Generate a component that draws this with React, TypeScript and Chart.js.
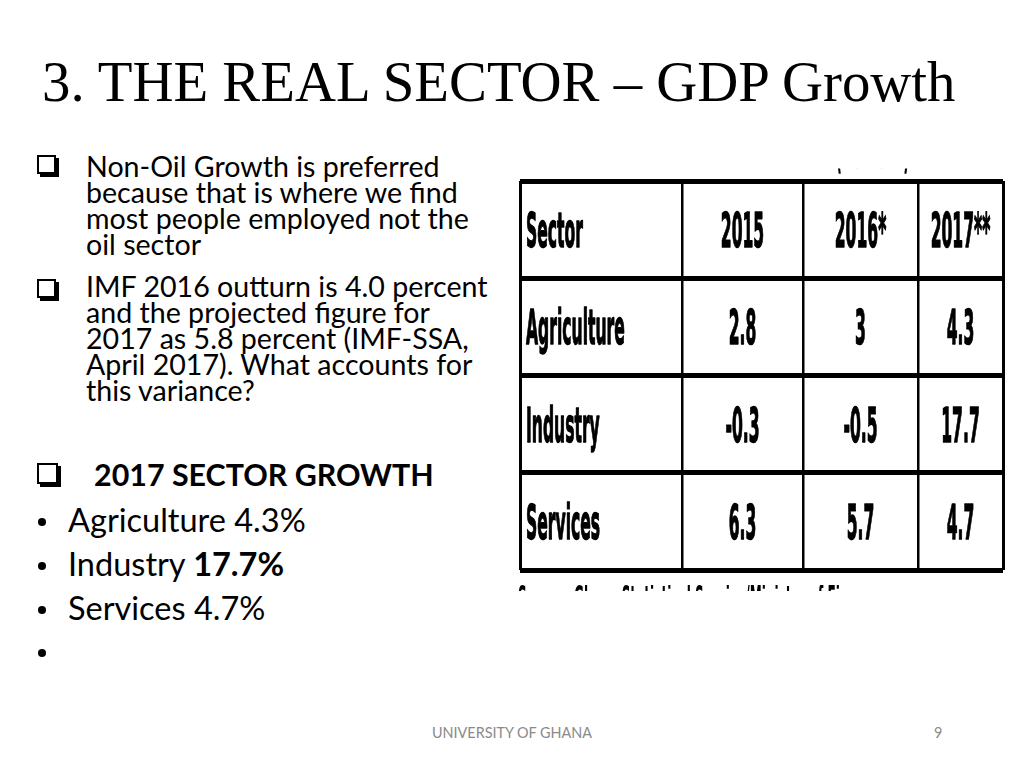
import React, { useEffect, useRef } from "react";
import { Chart, registerables } from "chart.js";

Chart.register(...registerables);

// ---------------- data ----------------
const slideTitle = "3. THE REAL SECTOR – GDP Growth";
const columnHeaders = ["Sector", "2015", "2016*", "2017**"];
const sectors = ["Agriculture", "Industry", "Services"];
const growth2015 = [2.8, -0.3, 6.3];
const growth2016 = [3, -0.5, 5.7];
const growth2017 = [4.3, 17.7, 4.7];
const growthSeries = [growth2015, growth2016, growth2017];
const tableNote = "(Percent)";
const tableSource = "Source: Ghana Statistical Service/Ministry of Finance";

const bulletOneLines = [
  "Non-Oil Growth is preferred",
  "because that is where we find",
  "most people employed not the",
  "oil sector",
];
const bulletTwoLines = [
  "IMF 2016 outturn is 4.0 percent",
  "and the projected figure for",
  "2017 as 5.8 percent (IMF-SSA,",
  "April 2017). What accounts for",
  "this variance?",
];
const sectorHeading = "2017 SECTOR GROWTH";
const highlightedSector = "Industry";
const footerText = "UNIVERSITY OF GHANA";
const slideNumber = "9";

// ---------------- layout (not data) ----------------
const COL_EDGES = [0, 162, 283, 398, 483]; // table units (px wide)
const ROWS = sectors.length + 1;
const CELL_FONT = "DejaVu Sans";
const SX = 0.78;
const SY = 2.4;
const CELL_SIZE = 20;

const fmt = (v: number) => String(v);

function drawStretched(
  ctx: CanvasRenderingContext2D,
  text: string,
  x: number,
  baseline: number,
  size: number,
  sy: number,
  align: CanvasTextAlign,
  heavy = false
) {
  ctx.save();
  ctx.translate(x, baseline);
  ctx.scale(SX, sy);
  ctx.font = `bold ${size}px "${CELL_FONT}"`;
  ctx.textAlign = align;
  ctx.textBaseline = "alphabetic";
  ctx.fillStyle = "#000";
  ctx.fillText(text, 0, 0);
  if (heavy) {
    ctx.strokeStyle = "#000";
    ctx.lineWidth = 0.6;
    ctx.lineJoin = "round";
    ctx.strokeText(text, 0, 0);
  }
  ctx.restore();
}

const cellTextPlugin = {
  id: "cellText",
  afterDraw(chart: any) {
    const { ctx, chartArea } = chart;
    const xs = chart.scales.x;
    const ys = chart.scales.y;
    const capH = 0.729 * CELL_SIZE * SY;
    const rows: string[][] = [columnHeaders];
    sectors.forEach((s, i) => {
      rows.push([s, ...growthSeries.map((ser) => fmt(ser[i]))]);
    });
    rows.forEach((row, r) => {
      const cy = ys.getPixelForValue(r + 0.5);
      row.forEach((txt, c) => {
        const x0 = xs.getPixelForValue(COL_EDGES[c]);
        const x1 = xs.getPixelForValue(COL_EDGES[c + 1]);
        if (c === 0) {
          drawStretched(ctx, txt, x0 + 6, cy + capH / 2, CELL_SIZE, SY, "left", true);
        } else {
          drawStretched(ctx, txt, (x0 + x1) / 2, cy + capH / 2, CELL_SIZE, SY, "center", true);
        }
      });
    });
    // cut-off caption above the table (only the parenthesis tails show)
    const noteBase = chartArea.top - 14;
    ctx.save();
    ctx.beginPath();
    ctx.rect(chartArea.left, noteBase + 1.5, chartArea.width, 8);
    ctx.clip();
    const nx0 = xs.getPixelForValue(COL_EDGES[2]);
    const nx1 = xs.getPixelForValue(COL_EDGES[3]);
    drawStretched(ctx, tableNote, (nx0 + nx1) / 2 + 12, noteBase, 18, 3, "center");
    ctx.restore();
    // cut-off source line below the table (only ascender tops show)
    const srcSize = 15.5;
    const srcSY = 2.2;
    const srcCapTop = chartArea.bottom + 15;
    const srcBase = srcCapTop + 0.729 * srcSize * srcSY;
    ctx.save();
    ctx.beginPath();
    ctx.rect(chartArea.left - 5, srcCapTop, chartArea.width, 6);
    ctx.clip();
    drawStretched(ctx, tableSource, chartArea.left - 2, srcBase, srcSize, srcSY, "left");
    ctx.restore();
  },
};

function SectorTable() {
  const ref = useRef<HTMLCanvasElement | null>(null);
  useEffect(() => {
    if (!ref.current) return;
    const chart = new Chart(ref.current, {
      type: "scatter",
      data: { datasets: [] },
      options: {
        animation: false,
        responsive: false,
        devicePixelRatio: 1,
        events: [],
        layout: { padding: { left: 15, top: 31, right: 21, bottom: 40 } },
        plugins: { legend: { display: false }, tooltip: { enabled: false } },
        scales: {
          x: {
            type: "linear",
            min: COL_EDGES[0],
            max: COL_EDGES[COL_EDGES.length - 1],
            afterBuildTicks: (s: any) => {
              s.ticks = COL_EDGES.map((v) => ({ value: v }));
            },
            ticks: { display: false },
            border: { display: false },
            grid: {
              color: "#000",
              drawTicks: false,
              lineWidth: (ctx: any) =>
                ctx.index === 0 || ctx.index === COL_EDGES.length - 1 ? 3 : 2.5,
            },
          },
          y: {
            type: "linear",
            min: 0,
            max: ROWS,
            reverse: true,
            afterBuildTicks: (s: any) => {
              s.ticks = Array.from({ length: ROWS + 1 }, (_, i) => ({ value: i }));
            },
            ticks: { display: false },
            border: { display: false },
            grid: { color: "#000", drawTicks: false, lineWidth: 5 },
          },
        },
      },
      plugins: [cellTextPlugin],
    } as any);
    return () => chart.destroy();
  }, []);
  return (
    <canvas
      ref={ref}
      width={519}
      height={460}
      style={{ position: "absolute", left: 505, top: 150, width: 519, height: 460 }}
    />
  );
}

const LATO_OFF = 0.887;
const SERIF_OFF = 0.8375;

function TextLine(props: {
  x: number;
  baseline: number;
  size: number;
  family: string;
  off: number;
  weight?: number;
  color?: string;
  children: any;
}) {
  const { x, baseline, size, family, off, weight = 400, color = "#000", children } = props;
  return (
    <div
      style={{
        position: "absolute",
        left: x,
        top: baseline - off * size,
        fontFamily: family,
        fontSize: size,
        lineHeight: `${size}px`,
        fontWeight: weight,
        color,
        whiteSpace: "pre",
      }}
    >
      {children}
    </div>
  );
}

function CheckBox({ x, y, s }: { x: number; y: number; s: number }) {
  return (
    <div
      style={{
        position: "absolute",
        left: x,
        top: y,
        width: s,
        height: s,
        boxSizing: "border-box",
        border: "2px solid #000",
        boxShadow: "3px 3px 0 0 #000",
        background: "#fff",
      }}
    />
  );
}

function Dot({ cx, cy }: { cx: number; cy: number }) {
  return (
    <div
      style={{
        position: "absolute",
        left: cx - 4,
        top: cy - 4,
        width: 8,
        height: 8,
        borderRadius: "50%",
        background: "#000",
      }}
    />
  );
}

export default function App() {
  const LATO = "Lato, 'Open Sans', sans-serif";
  const SERIF = "'Liberation Serif', 'Times New Roman', serif";
  const b1 = [177, 203, 229, 255];
  const b2 = [297, 323, 349, 375, 401];
  const itemBase = [533, 577, 621];
  return (
    <div
      style={{
        position: "absolute",
        left: 0,
        top: 0,
        width: 1024,
        height: 768,
        background: "#fff",
        overflow: "hidden",
      }}
    >
      <TextLine x={42} baseline={102} size={56.8} family={SERIF} off={SERIF_OFF}>
        {slideTitle}
      </TextLine>

      <CheckBox x={37} y={155} s={19} />
      {bulletOneLines.map((t, i) => (
        <TextLine key={"a" + i} x={86} baseline={b1[i]} size={28.6} family={LATO} off={LATO_OFF}>
          {t}
        </TextLine>
      ))}
      <CheckBox x={37} y={279} s={19} />
      {bulletTwoLines.map((t, i) => (
        <TextLine key={"b" + i} x={86} baseline={b2[i]} size={28.6} family={LATO} off={LATO_OFF}>
          {t}
        </TextLine>
      ))}

      <CheckBox x={37} y={463} s={21} />
      <TextLine x={94} baseline={486} size={30.4} weight={700} family={LATO} off={LATO_OFF}>
        {sectorHeading}
      </TextLine>
      {sectors.map((s, i) => (
        <React.Fragment key={"s" + i}>
          <Dot cx={41.7} cy={itemBase[i] - 11.5} />
          <TextLine x={68} baseline={itemBase[i]} size={32.5} family={LATO} off={LATO_OFF}>
            {s + " "}
            {s === highlightedSector ? (
              <b>{fmt(growth2017[i]) + "%"}</b>
            ) : (
              fmt(growth2017[i]) + "%"
            )}
          </TextLine>
        </React.Fragment>
      ))}
      <Dot cx={41.7} cy={653} />

      <SectorTable />

      <TextLine x={432} baseline={739} size={14.4} family={LATO} off={LATO_OFF} color="#8a8a8a">
        {footerText}
      </TextLine>
      <TextLine x={934} baseline={739} size={14.4} family={LATO} off={LATO_OFF} color="#8a8a8a">
        {slideNumber}
      </TextLine>
    </div>
  );
}
